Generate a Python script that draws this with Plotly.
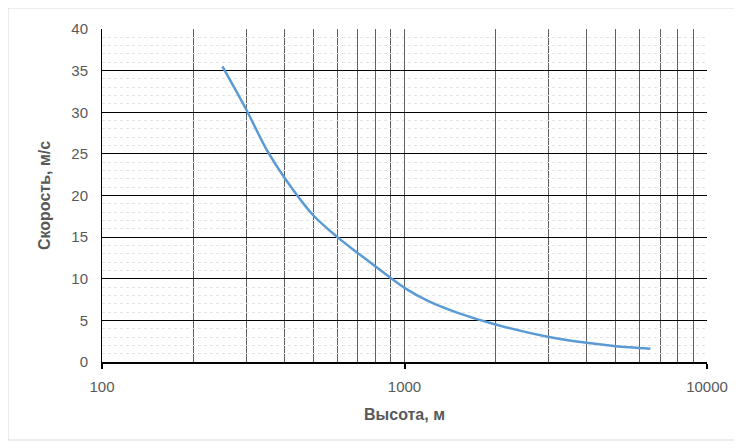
import plotly.graph_objects as go

heights = [250, 300, 350, 400, 500, 600, 700, 800, 900, 1000, 1200, 1500, 2000, 3000, 4000, 5000, 6500]
speeds = [35.5, 30.3, 25.5, 22.2, 17.6, 15.0, 13.1, 11.5, 10.1, 8.9, 7.3, 5.9, 4.5, 3.0, 2.3, 1.9, 1.6]

x_major = [100, 1000, 10000]
x_major_text = ["100", "1000", "10000"]
x_minor = [200, 300, 400, 500, 600, 700, 800, 900, 2000, 3000, 4000, 5000, 6000, 7000, 8000, 9000]

font_family = "Liberation Sans, Arial, sans-serif"
gray = "#595959"

W, H = 734, 440
L, T, R, B = 94, 21, 35, 86

fig = go.Figure()
fig.add_trace(go.Scatter(
    x=heights, y=speeds, mode="lines",
    line=dict(color="#5b9bd5", width=2.5, shape="spline", smoothing=0.8),
    hoverinfo="x+y", showlegend=False,
))

pw, ph = W - L - R, H - T - B

fig.update_layout(
    width=W, height=H,
    margin=dict(l=L, r=R, t=T, b=B, autoexpand=False),
    paper_bgcolor="white", plot_bgcolor="white",
    font=dict(family=font_family, size=15, color=gray),
    xaxis=dict(
        type="log", range=[2, 4],
        tickmode="array", tickvals=x_major, ticktext=x_major_text,
        showgrid=True, gridcolor="#606060", gridwidth=1,
        minor=dict(tickmode="array", tickvals=x_minor, showgrid=True,
                   gridcolor="#606060", gridwidth=1, ticks=""),
        showline=True, linecolor="black", linewidth=1.5,
        ticks="outside", ticklen=5, tickcolor="black", tickwidth=1.5,
        ticklabelstandoff=5,
        tickfont=dict(size=15, color=gray),
        title=dict(text="<b>Высота, м</b>", font=dict(size=16, color=gray), standoff=15),
        zeroline=False,
        automargin=False,
    ),
    yaxis=dict(
        range=[0, 40], dtick=5, tick0=0,
        showgrid=True, gridcolor="black", gridwidth=1,
        minor=dict(dtick=1, showgrid=True, gridcolor="#e4e4e4", gridwidth=1, griddash="dot"),
        showline=True, linecolor="black", linewidth=1,
        ticks="", ticklabelstandoff=10,
        tickfont=dict(size=15, color=gray),
        title=dict(text="<b>Скорость, м/с</b>", font=dict(size=16, color=gray), standoff=16),
        zeroline=False,
        automargin=False,
    ),
    shapes=[dict(
        type="rect", xref="paper", yref="paper",
        x0=(0 - L) / pw, x1=(727 - L) / pw,
        y0=-(432 - (T + ph)) / ph, y1=1 + (T - 0) / ph,
        line=dict(color="#d9d9d9", width=1), fillcolor="rgba(0,0,0,0)", layer="below",
    )],
)

fig.write_html("out.html")
